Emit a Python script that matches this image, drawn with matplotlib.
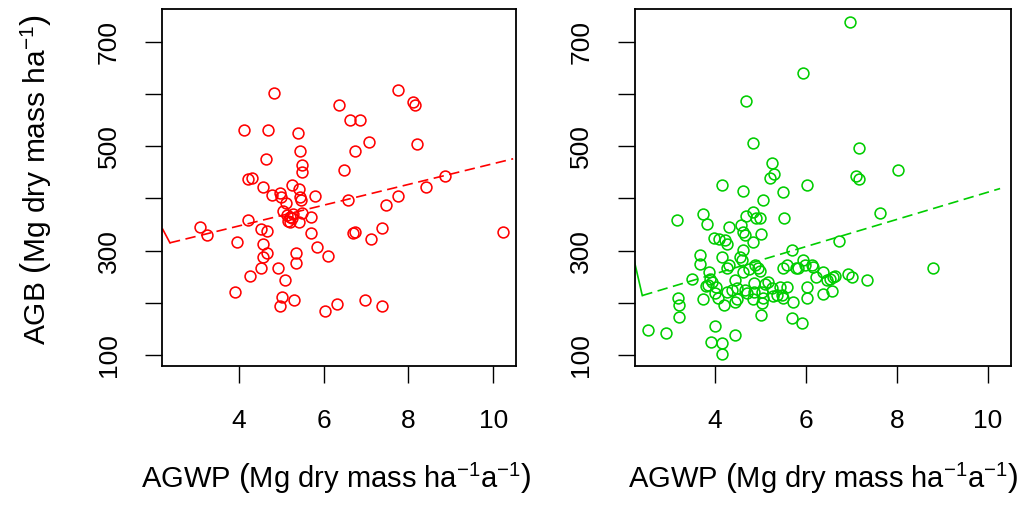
import matplotlib
matplotlib.use("Agg")
import matplotlib.pyplot as plt

plt.rcParams['font.family'] = ['Liberation Sans', 'DejaVu Sans']
plt.rcParams['mathtext.fontset'] = 'custom'
plt.rcParams['mathtext.rm'] = 'Liberation Sans'
plt.rcParams['mathtext.it'] = 'Liberation Sans:italic'
plt.rcParams['mathtext.bf'] = 'Liberation Sans:bold'
plt.rcParams['lines.scale_dashes'] = False

# ---------------- data ----------------
left_x = [4.83, 4.125, 4.69, 5.39, 5.44, 4.64, 5.49, 5.49, 6.36, 6.62, 6.85, 6.74, 7.07,
          6.48, 7.76, 8.11, 8.15, 8.20, 8.86, 8.41, 7.76, 7.46, 6.58, 4.21, 4.31, 4.57,
          4.78, 4.96, 4.98, 5.26, 5.42, 5.10, 5.44, 5.47, 5.79, 5.04, 5.27, 5.49, 4.22,
          5.71, 5.20, 3.08, 3.25, 3.95, 4.52, 4.65, 4.57, 4.65, 4.57, 4.52, 4.26, 3.91,
          4.91, 5.08, 5.01, 4.97, 5.30, 5.35, 5.35, 5.125, 5.20, 5.24, 5.16, 5.42, 5.71,
          5.83, 6.09, 6.74, 6.70, 7.37, 7.11, 10.22, 6.97, 7.37, 6.04, 6.31]
left_y = [603, 532, 532, 525, 490, 475, 465, 450, 579, 550, 550, 490, 508,
          454, 607, 585, 579, 504, 443, 422, 405, 387, 397, 437, 440, 422,
          407, 410, 403, 426, 419, 391, 403, 398, 405, 376, 371, 373, 359,
          365, 365, 345, 330, 316, 341, 337, 312, 295, 287, 266, 251, 220,
          266, 244, 212, 194, 205, 295, 276, 368, 355, 362, 357, 354, 333,
          307, 290, 336, 333, 344, 322, 336, 205, 194, 184, 197]

right_x = [5.94, 4.68, 4.84, 5.25, 5.30, 5.22, 4.15, 4.61, 5.50, 6.03, 5.05, 6.97, 7.17,
           7.10, 7.17, 8.03, 7.63, 6.73, 8.80, 7.34, 6.93, 7.02, 6.64, 6.60, 6.53, 6.37,
           6.57, 6.37, 3.17, 3.74, 3.82, 4.84, 4.90, 4.99, 4.68, 5.52, 4.31, 4.57, 4.62,
           4.66, 5.01, 3.98, 4.09, 4.22, 4.26, 4.84, 4.62, 4.55, 4.59, 4.15, 3.67, 3.67,
           4.31, 4.27, 3.87, 4.62, 4.88, 4.95, 4.99, 4.75, 5.70, 5.94, 5.98, 5.58, 5.50,
           5.78, 5.83, 6.13, 6.16, 6.22, 6.46, 3.49, 3.89, 3.93, 3.80, 3.85, 4.02, 4.00,
           4.07, 4.26, 4.37, 4.44, 4.48, 4.49, 4.66, 4.70, 4.86, 4.86, 4.84, 5.03, 5.05,
           5.03, 5.10, 5.17, 5.25, 5.28, 5.36, 5.43, 5.47, 5.50, 5.58, 5.71, 6.02, 6.03,
           4.20, 4.44, 3.74, 3.18, 3.21, 3.21, 5.01, 5.70, 5.91, 2.52, 2.92, 4.00, 4.44,
           3.91, 4.16, 4.16]
right_y = [640, 586, 507, 468, 447, 440, 426, 415, 412, 426, 397, 738, 497,
           443, 437, 454, 373, 319, 266, 244, 255, 249, 251, 249, 245, 260,
           223, 217, 358, 371, 351, 374, 363, 362, 366, 363, 345, 349, 336,
           330, 331, 325, 322, 320, 313, 316, 302, 287, 283, 287, 292, 274,
           272, 266, 260, 260, 272, 266, 261, 264, 301, 283, 272, 272, 266,
           266, 266, 272, 269, 250, 244, 245, 245, 240, 232, 235, 231, 219,
           210, 221, 224, 244, 228, 207, 224, 218, 238, 221, 207, 221, 209,
           200, 237, 240, 228, 213, 215, 231, 215, 209, 231, 202, 231, 209,
           196, 202, 207, 209, 196, 173, 177, 171, 162, 148, 142, 156, 138,
           125, 124, 102]

# fitted trend lines (dashed) and short solid segments at left edge
left_fit_x = [2.37, 10.47]
left_fit_y = [315, 476]
left_edge_x = [2.20, 2.37]
left_edge_y = [341, 315]
right_fit_x = [2.40, 10.27]
right_fit_y = [214, 419]
right_edge_x = [2.22, 2.40]
right_edge_y = [282, 214]

yticks = [100, 200, 300, 400, 500, 600, 700]
ytick_labels = ['100', '', '300', '', '500', '', '700']
xticks = [4, 6, 8, 10]
xtick_labels = ['4', '6', '8', '10']

W, H = 1024, 508
fig = plt.figure(figsize=(W / 100, H / 100), dpi=100)

def px_axes(x0, x1, y0, y1):
    return fig.add_axes([x0 / W, 1 - y1 / H, (x1 - x0) / W, (y1 - y0) / H])

axL = px_axes(162.3, 515.7, 9, 366)
axR = px_axes(635, 1011, 9, 366)

xlab = r'AGWP $\left(\mathrm{Mg\ dry\ mass\ ha^{-1}a^{-1}}\right)$'
ylab = r'AGB $\left(\mathrm{Mg\ dry\ mass\ ha^{-1}}\right)$'

panels = [
    (axL, left_x, left_y, left_fit_x, left_fit_y, left_edge_x, left_edge_y, '#FF0000', (2.19, 10.53), 336),
    (axR, right_x, right_y, right_fit_x, right_fit_y, right_edge_x, right_edge_y, '#00CD00', (2.24, 10.51), 823),
]
for ax, xs, ys, fx, fy, ex, ey, col, xl, lx in panels:
    ax.plot(xs, ys, linestyle='none', marker='o', ms=7.8, mew=1.15,
            mfc='none', mec=col)
    ax.plot(fx, fy, color=col, lw=1.2, dashes=(7.5, 4.0))
    ax.plot(ex, ey, color=col, lw=1.2)
    ax.set_xlim(*xl)
    ax.set_ylim(79, 763)
    ax.set_xticks(xticks)
    ax.set_xticklabels(xtick_labels)
    ax.set_yticks(yticks)
    ax.set_yticklabels(ytick_labels, rotation=90, va='center')
    ax.tick_params(length=12, width=1.0, labelsize=19, direction='out', color='black')
    ax.tick_params(axis='x', pad=19)
    ax.tick_params(axis='y', pad=18)
    for s in ax.spines.values():
        s.set_linewidth(1.3)
    fig.text(lx / W, 1 - 488 / H, xlab, fontsize=21, ha='center', va='baseline')

fig.text(36 / W, 1 - 179 / H, ylab, fontsize=21.5, rotation=90, ha='center', va='center')

fig.savefig('out.png', dpi=100)
